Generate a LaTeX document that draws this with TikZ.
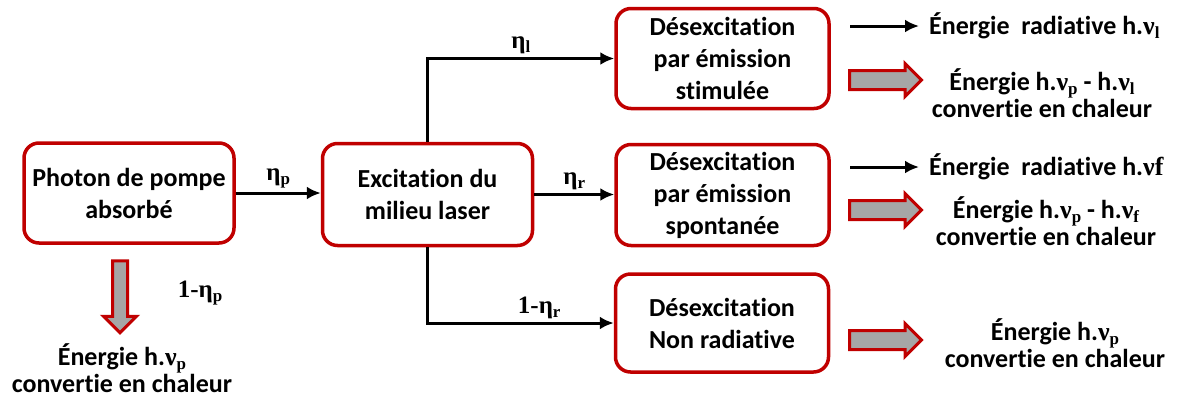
\documentclass[tikz,border=0pt]{standalone}
\usepackage{fontspec}
\setmainfont{Carlito}[Ligatures=NoCommon]
\newfontfamily\grfont{Liberation Serif}
\usetikzlibrary{arrows.meta,shapes.arrows,positioning}

\definecolor{boxred}{RGB}{192,0,0}
\definecolor{heatgray}{RGB}{166,166,166}

% small lowered index, and the greek symbols of the labels
\newcommand\idx[1]{\raisebox{-0.35ex}{\fontsize{17}{17}\selectfont #1}}
\newcommand\effi[1]{{\grfont\bfseries η\idx{#1}}}
\newcommand\nuf[1]{{\grfont\bfseries ν\idx{#1}}}

\tikzset{
  stage/.style={draw=boxred, line width=3.5pt, rounded corners=15pt, fill=white,
    align=center, minimum width=210pt, minimum height=100pt, inner sep=0pt,
    font=\fontsize{26}{32}\selectfont\bfseries},
  flow/.style={line width=3pt, -{Latex[length=14pt,width=13pt]}},
  heat/.style={shape=single arrow, draw=boxred, fill=heatgray, line width=3pt,
    inner sep=8pt, single arrow head extend=7pt, minimum height=72pt},
  note/.style={font=\fontsize{26}{27}\selectfont\bfseries, align=center, inner sep=0pt},
  lbl/.style={font=\fontsize{25}{25}\selectfont, inner sep=3pt}
}

\begin{document}
\begin{tikzpicture}[x=1pt, y=-1pt]
  \useasboundingbox (0,0) rectangle (1181,400);

  % boxes
  \node[stage] (pump) at (129,193) {Photon de pompe\\absorbé};
  \node[stage, minimum height=102pt] (excite) at (427.5,194.5) {Excitation du\\milieu laser};
  \node[stage, minimum width=213pt] (stim) at (722.5,58.5) {Désexcitation\\par émission\\stimulée};
  \node[stage, minimum width=213pt, minimum height=101pt] (spont) at (722.5,195) {Désexcitation\\par émission\\spontanée};
  \node[stage, minimum width=213pt, minimum height=98pt] (nonrad) at (722,323) {Désexcitation\\Non radiative};

  % branches
  \draw[flow] (pump.east) -- (pump.east -| excite.west)
    node[lbl, midway, above] {\effi{p}};
  \draw[flow] (excite.north) |- (stim.west)
    node[lbl, pos=0.75, above] {\effi{l}};
  \draw[flow] (excite.east) -- (excite.east -| spont.west)
    node[lbl, midway, above] {\effi{r}};
  \draw[flow] (excite.south) |- (nonrad.west)
    node[lbl, pos=0.8, above] {{\grfont\bfseries 1-}\effi{r}};

  % losses below the pump
  \node[heat, rotate=-90, inner sep=6pt, single arrow head extend=9pt] (loss) at (120,293) {};
  \node[lbl] (lossp) at (200,293) {{\grfont\bfseries 1-}\effi{p}};
  \node[note] (lossE) at (122,368) {Énergie h.\nuf{p}\\convertie en chaleur};

  % radiative outputs
  \coordinate (r1) at (850,26);
  \node[note, anchor=west] (rad1) at (929,26) {Énergie\ \ radiative h.\nuf{l}};
  \draw[flow, shorten >=10pt] (r1) -- (rad1.west);
  \coordinate (r2) at (850,167);
  \node[note, anchor=west] (rad2) at (929,167) {Énergie\ \ radiative h.{\grfont\bfseries νf}};
  \draw[flow, shorten >=10pt] (r2) -- (rad2.west);

  % heat outputs
  \node[heat, anchor=west] (h1) at (848,80) {};
  \node[note] (heat1) at (1042,93) {Énergie h.\nuf{p} - h.\nuf{l}\\convertie en chaleur};
  \node[heat, anchor=west] (h2) at (848,210) {};
  \node[note] (heat2) at (1046,221) {Énergie h.\nuf{p} - h.\nuf{f}\\convertie en chaleur};
  \node[heat, anchor=west] (h3) at (848,340) {};
  \node[note] (heat3) at (1055,343) {Énergie h.\nuf{p}\\convertie en chaleur};
\end{tikzpicture}
\end{document}
